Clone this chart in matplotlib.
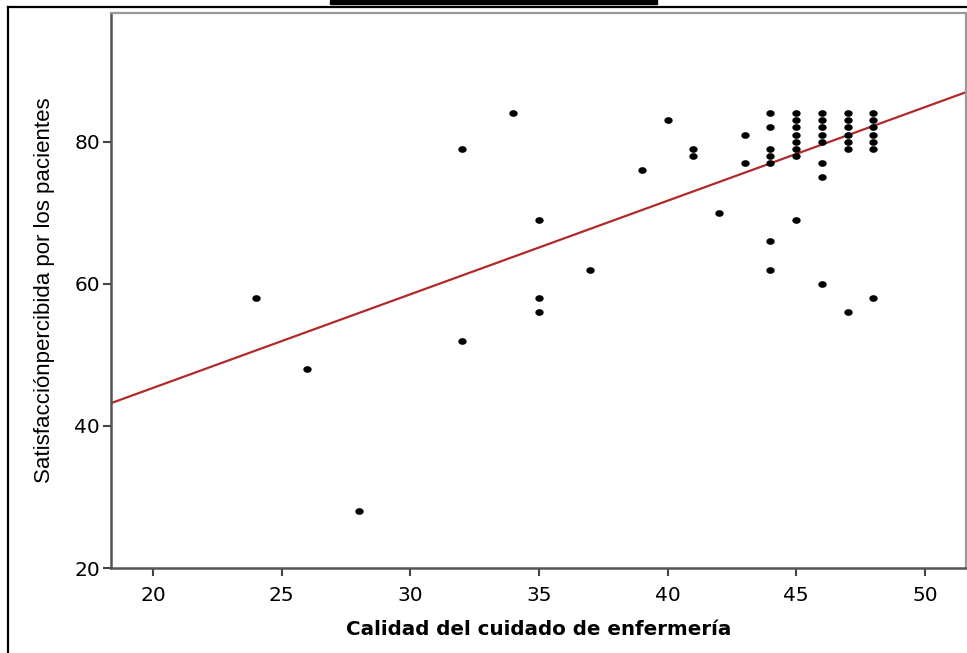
import numpy as np
import matplotlib.pyplot as plt
from matplotlib.lines import Line2D
from matplotlib.patches import Rectangle

plt.rcParams['font.family'] = ['Liberation Sans', 'DejaVu Sans']

# Datos
calidad = [24, 26, 28, 32, 32, 34, 35, 35, 35, 37, 39, 40, 41, 41, 42, 43, 43,
           44, 44, 44, 44, 44, 44, 44,
           45, 45, 45, 45, 45, 45, 45, 45,
           46, 46, 46, 46, 46, 46, 46, 46,
           47, 47, 47, 47, 47, 47, 47,
           48, 48, 48, 48, 48, 48, 48]
satisfaccion = [58, 48, 28, 79, 52, 84, 69, 58, 56, 62, 76, 83, 79, 78, 70, 81, 77,
                84, 82, 79, 78, 77, 66, 62,
                84, 83, 82, 81, 80, 79, 78, 69,
                84, 83, 82, 81, 80, 77, 75, 60,
                84, 83, 82, 81, 80, 79, 56,
                84, 83, 82, 81, 80, 79, 58]

# Recta de ajuste (estimada)
intercepto = 19.0
pendiente = 1.317

x_ticks = [20, 25, 30, 35, 40, 45, 50]
y_ticks = [20, 40, 60, 80]

# marcador eliptico (un poco mas ancho que alto)
t = np.linspace(0, 2 * np.pi, 40)
elipse = np.column_stack([np.cos(t), 0.8 * np.sin(t)])

fig = plt.figure(figsize=(9.67, 6.53), dpi=100)
ax = fig.add_axes([111 / 967, 85 / 653, 855 / 967, 555 / 653])

xlim = (18.37, 51.6)
ax.set_xlim(xlim)
ax.set_ylim(20, 98.1)

ax.plot(calidad, satisfaccion, linestyle='none', marker=elipse,
        color='black', markersize=6, markeredgewidth=0, zorder=3)

xs = np.array(xlim)
ax.plot(xs, intercepto + pendiente * xs, color='#b02a2a', linewidth=1.6,
        zorder=2)

ax.set_xticks(x_ticks)
ax.set_yticks(y_ticks)
ax.tick_params(axis='both', length=6, width=1.5, color='#444444',
               direction='out')
ax.tick_params(axis='x', pad=7)
ax.tick_params(axis='y', pad=2)
for lab in ax.get_xticklabels() + ax.get_yticklabels():
    lab.set_fontfamily('DejaVu Sans')
    lab.set_fontsize(14.5)

for lado in ['left', 'bottom']:
    ax.spines[lado].set_color('#555555')
    ax.spines[lado].set_linewidth(1.8)
for lado in ['top', 'right']:
    ax.spines[lado].set_color('#999999')
    ax.spines[lado].set_linewidth(1.6)

ax.set_xlabel('Calidad del cuidado de enfermería', fontsize=14.3,
              family='DejaVu Sans', fontweight='bold', labelpad=11)
ax.set_ylabel('Satisfacciónpercibida por los pacientes', fontsize=16,
              labelpad=14)

# Marco exterior y barra superior
fig.add_artist(Line2D([8 / 967, 1], [1 - 7 / 653, 1 - 7 / 653],
                      color='black', linewidth=1.6, transform=fig.transFigure))
fig.add_artist(Line2D([8 / 967, 8 / 967], [0, 1 - 7 / 653],
                      color='black', linewidth=1.6, transform=fig.transFigure))
fig.add_artist(Rectangle((330 / 967, 1 - 4 / 653), 327 / 967, 4 / 653,
                         color='black', transform=fig.transFigure))

fig.savefig('out.png', dpi=100)
